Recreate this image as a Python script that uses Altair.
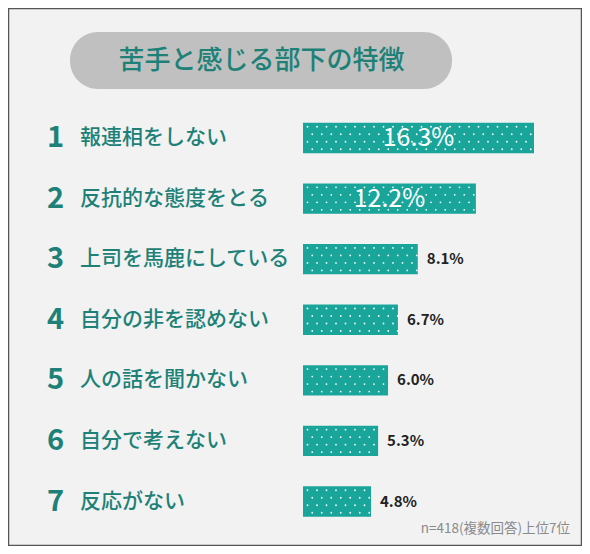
import altair as alt
import pandas as pd

ranks = [1, 2, 3, 4, 5, 6, 7]
labels = ["報連相をしない", "反抗的な態度をとる", "上司を馬鹿にしている", "自分の非を認めない",
          "人の話を聞かない", "自分で考えない", "反応がない"]
values = [16.3, 12.2, 8.1, 6.7, 6.0, 5.3, 4.8]
title_text = "苦手と感じる部下の特徴"
note_text = "n=418(複数回答)上位7位"

df = pd.DataFrame({"rank": ranks, "label": labels, "value": values})
df["pct"] = [f"{v:.1f}%" for v in values]
df["zero"] = 0.0

FONT = "Noto Sans CJK JP"
BAR = "#1aa59b"
TEAL = "#1d8178"

xs = alt.Scale(domain=[0, 16.3], range=[295, 526])
ys = alt.Scale(domain=ranks, range=[99.7, 523.8], paddingInner=0.5, paddingOuter=0.25)
X = lambda f: alt.X(f, type="quantitative", scale=xs, axis=None)
Y = alt.Y("rank:O", scale=ys, axis=None)

base = alt.Chart(df)

bars = base.mark_bar(color=BAR, cornerRadius=0).encode(x=X("zero"), x2="value", y=Y)

dot_layers = []
for off, dash_off in [(-11.25, 5), (-3.75, 0.25), (3.75, 5), (11.25, 0.25)]:
    dot_layers.append(
        base.mark_rule(color="white", strokeWidth=1.8, strokeCap="round",
                       strokeDash=[0, 9.5], strokeDashOffset=dash_off,
                       yOffset=off, opacity=0.95)
        .encode(x=X("zero"), x2="value", y=Y)
    )

nums = base.mark_text(font=FONT, fontSize=29, fontWeight=600, color=TEAL,
                      align="center", baseline="middle").encode(
    x=alt.value(47.5), y=Y, text="rank:N")

names = base.mark_text(font=FONT, fontSize=21, fontWeight=500, color=TEAL,
                       align="left", baseline="middle").encode(
    x=alt.value(72), y=Y, text="label:N")

inside = base.transform_filter("datum.value >= 10").transform_calculate(
    mid="datum.value / 2").mark_text(
    font=FONT, fontSize=25, fontWeight=400, color="white",
    align="center", baseline="middle").encode(x=X("mid"), y=Y, text="pct:N")

outside = base.transform_filter("datum.value < 10").mark_text(
    font=FONT, fontSize=15, fontWeight=700, color="#222222",
    align="left", baseline="middle", dx=9).encode(x=X("value"), y=Y, text="pct:N")

one = alt.Chart(pd.DataFrame({"t": [title_text], "n": [note_text]}))
pill = one.mark_rect(color="#c0c0c0", cornerRadius=28).encode(
    x=alt.value(62), x2=alt.value(444), y=alt.value(24), y2=alt.value(81))
title = one.mark_text(font=FONT, fontSize=26, fontWeight=500, color=TEAL,
                      align="center", baseline="middle").encode(
    x=alt.value(253.5), y=alt.value(53), text="t:N")
note = one.mark_text(font=FONT, fontSize=13.5, color="#8a8a8a",
                     align="right", baseline="alphabetic").encode(
    x=alt.value(562), y=alt.value(525), text="n:N")

chart = alt.layer(pill, title, bars, *dot_layers, nums, names, inside, outside, note).properties(
    width=574, height=538, autosize=alt.AutoSizeParams(type="none"), padding=0,
    background="#f2f2f2"
).configure_view(stroke="#555555", strokeWidth=2.5)

chart.save("out.html", embed_options={"renderer": "svg", "actions": False})
